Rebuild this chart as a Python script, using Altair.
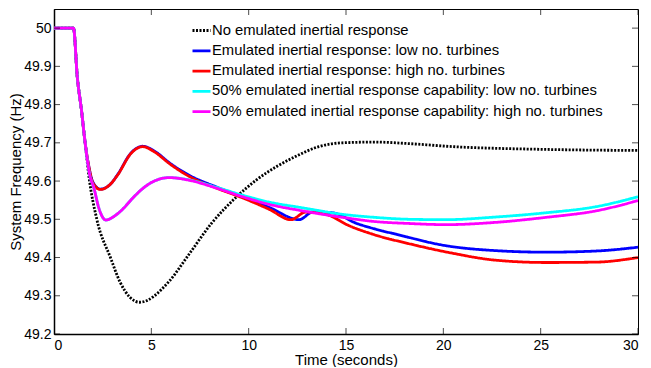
import altair as alt
import pandas as pd

series_names = [
    "No emulated inertial response",
    "Emulated inertial response: low no. turbines",
    "Emulated inertial response: high no. turbines",
    "50% emulated inertial response capability: low no. turbines",
    "50% emulated inertial response capability: high no. turbines",
]
colors = ["#000000", "#0000ff", "#ff0000", "#00ffff", "#ff00ff"]
dashes = [[2, 1.5], [1, 0], [1, 0], [1, 0], [1, 0]]

t_none = [0, 1.0, 1.2, 1.4, 1.6, 1.8, 2.2, 2.9, 3.4, 4.4, 5.9, 6.9, 8.1, 9.3, 10.4, 11.5, 12.4, 13.6, 14.8, 16.5, 18.2, 20.5, 25, 30]
f_none = [50, 50, 49.87, 49.79, 49.70, 49.61, 49.50, 49.40, 49.335, 49.283, 49.337, 49.406, 49.49, 49.555, 49.603, 49.64, 49.664, 49.69, 49.70, 49.702, 49.698, 49.69, 49.683, 49.68]

t_low = [0, 1.0, 1.2, 1.4, 1.6, 1.8, 2.0, 2.38, 2.9, 3.27, 3.95, 4.55, 5.2, 5.92, 6.95, 8.32, 9.69, 11.06, 12.6, 13.29, 14.31, 15.51, 16.54, 17.57, 20.13, 22.7, 25.27, 27.84, 30]
f_low = [50, 50, 49.87, 49.79, 49.70, 49.635, 49.597, 49.579, 49.592, 49.617, 49.673, 49.691, 49.677, 49.648, 49.615, 49.585, 49.559, 49.531, 49.499, 49.519, 49.517, 49.49, 49.474, 49.461, 49.431, 49.418, 49.414, 49.417, 49.427]

t_high = [0, 1.0, 1.2, 1.4, 1.6, 1.8, 2.0, 2.38, 2.9, 3.27, 3.95, 4.55, 5.2, 5.92, 6.95, 8.32, 9.69, 11.06, 12.17, 12.94, 13.97, 15.17, 16.37, 18.25, 20.4, 22.7, 25.27, 27.84, 30]
f_high = [50, 50, 49.87, 49.79, 49.70, 49.635, 49.595, 49.578, 49.592, 49.616, 49.672, 49.690, 49.675, 49.646, 49.612, 49.582, 49.556, 49.526, 49.499, 49.519, 49.513, 49.483, 49.461, 49.436, 49.412, 49.393, 49.387, 49.388, 49.40]

t_half_low = [0, 1.0, 1.2, 1.4, 1.6, 1.8, 2.07, 2.3, 2.67, 3.0, 3.5, 4.0, 4.5, 5.07, 5.92, 6.95, 8.32, 9.69, 11.06, 12.77, 14.83, 16.5, 18.25, 20.13, 22.7, 25.27, 27.84, 30]
f_half_low = [50, 50, 49.87, 49.79, 49.70, 49.625, 49.578, 49.53, 49.498, 49.505, 49.525, 49.553, 49.578, 49.598, 49.609, 49.603, 49.584, 49.563, 49.545, 49.530, 49.513, 49.505, 49.50, 49.499, 49.506, 49.517, 49.533, 49.559]

t_half_high = [0, 1.0, 1.2, 1.4, 1.6, 1.8, 2.07, 2.3, 2.67, 3.0, 3.5, 4.0, 4.5, 5.07, 5.92, 6.95, 8.32, 9.69, 11.06, 12.77, 14.83, 16.5, 18.25, 20.13, 22.7, 25.27, 27.84, 30]
f_half_high = [50, 50, 49.87, 49.79, 49.70, 49.625, 49.578, 49.53, 49.498, 49.505, 49.525, 49.553, 49.578, 49.598, 49.609, 49.602, 49.582, 49.559, 49.539, 49.522, 49.505, 49.494, 49.489, 49.486, 49.492, 49.505, 49.522, 49.549]

x_ticks = [0, 5, 10, 15, 20, 25, 30]
y_ticks = [49.2, 49.3, 49.4, 49.5, 49.6, 49.7, 49.8, 49.9, 50.0]
x_domain = [0, 30]
y_domain = [49.2, 50.05]

rows = []
for name, ts, fs in zip(series_names,
                        [t_none, t_low, t_high, t_half_low, t_half_high],
                        [f_none, f_low, f_high, f_half_low, f_half_high]):
    for t, f in zip(ts, fs):
        rows.append({"series": name, "t": t, "f": f})
df = pd.DataFrame(rows)

xt_rows = [{"t": t, "f": y} for t in x_ticks for y in y_domain]
yt_rows = [{"t": x, "f": f} for f in y_ticks for x in x_domain]
df_xt = pd.DataFrame(xt_rows)
df_yt = pd.DataFrame(yt_rows)

FONT = "Liberation Sans"
xscale = alt.Scale(domain=x_domain, nice=False, zero=False)
yscale = alt.Scale(domain=y_domain, nice=False, zero=False)

leg = alt.Legend(title=None, orient="none", legendX=137, legendY=11)

lines = alt.Chart(df).mark_line(strokeWidth=2.8, interpolate="monotone", clip=True).encode(
    x=alt.X("t:Q", scale=xscale,
            axis=alt.Axis(values=x_ticks, title="Time (seconds)", grid=False, tickSize=0,
                          labelPadding=4, titlePadding=0)),
    y=alt.Y("f:Q", scale=yscale,
            axis=alt.Axis(values=y_ticks, title="System Frequency (Hz)", grid=False, tickSize=0,
                          labelPadding=3, titlePadding=0,
                          labelExpr="datum.value == 50 ? '50' : format(datum.value, '.1f')")),
    color=alt.Color("series:N", scale=alt.Scale(domain=series_names, range=colors), legend=leg),
    strokeDash=alt.StrokeDash("series:N", scale=alt.Scale(domain=series_names, range=dashes), legend=leg),
)

xticks = alt.Chart(df_xt).mark_tick(orient="vertical", size=12, thickness=1, color="black", clip=True).encode(
    x=alt.X("t:Q", scale=xscale), y=alt.Y("f:Q", scale=yscale))
yticks = alt.Chart(df_yt).mark_tick(orient="horizontal", size=12, thickness=1, color="black", clip=True).encode(
    x=alt.X("t:Q", scale=xscale), y=alt.Y("f:Q", scale=yscale))

chart = alt.layer(lines, xticks, yticks).properties(
    width=584, height=325,
    padding={"left": 0, "top": 1, "right": 0, "bottom": 0},
).configure_view(stroke="black", strokeWidth=1).configure_axis(
    labelFont=FONT, labelFontSize=14, labelColor="black",
    titleFont=FONT, titleFontSize=15, titleFontWeight="normal", titleColor="black",
    domainColor="black", domainWidth=1.5,
).configure_legend(
    labelFont=FONT, labelFontSize=14.8, labelColor="black", labelLimit=0,
    symbolType="stroke", symbolSize=324, symbolStrokeWidth=2.8, labelOffset=0,
    rowPadding=2.3, padding=0,
)

chart.save("out.html", embed_options={"renderer": "svg", "actions": False})
